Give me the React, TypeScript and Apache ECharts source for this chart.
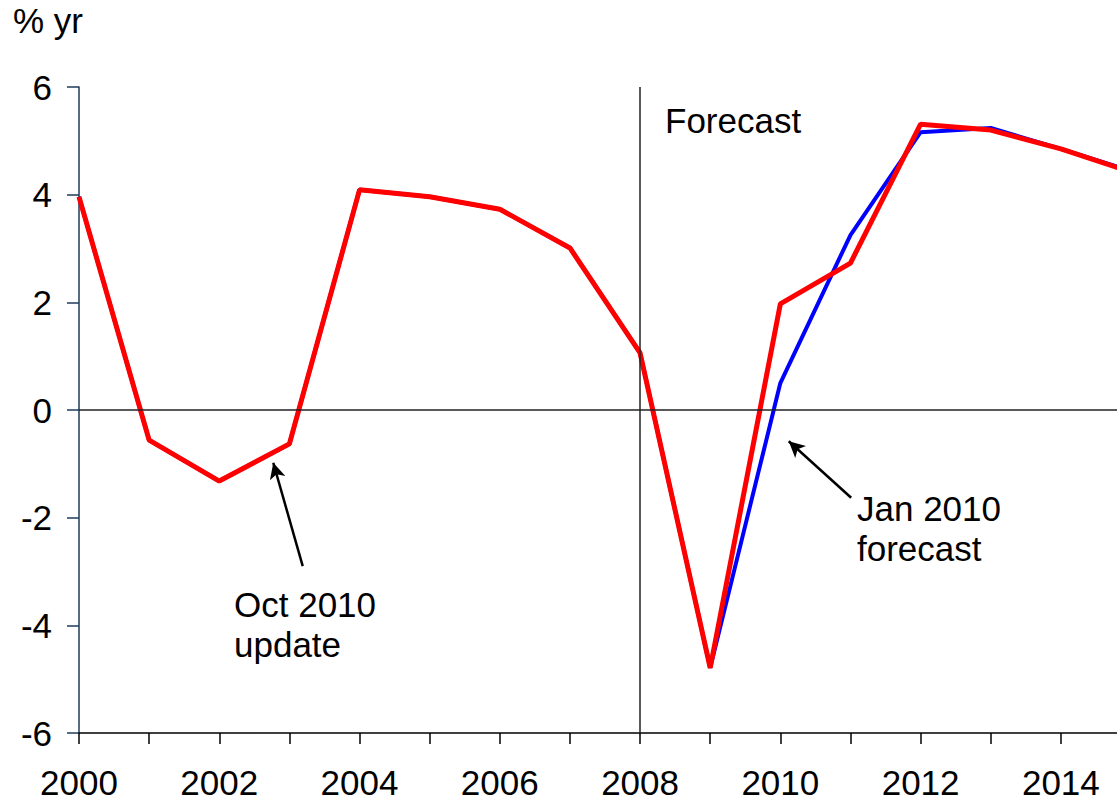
import React, { useEffect, useRef } from "react";
import * as echarts from "echarts";

const years = [2000, 2001, 2002, 2003, 2004, 2005, 2006, 2007, 2008, 2009, 2010, 2011, 2012, 2013, 2014, 2015];
const oct2010Update = [3.96, -0.56, -1.32, -0.63, 4.09, 3.96, 3.73, 3.01, 1.06, -4.79, 1.97, 2.73, 5.31, 5.2, 4.85, 4.42];
const jan2010Forecast = [3.96, -0.56, -1.32, -0.63, 4.09, 3.96, 3.73, 3.01, 1.06, -4.79, 0.5, 3.25, 5.16, 5.24, 4.85, 4.44];
const yTicks = [-6, -4, -2, 0, 2, 4, 6];
const forecastStartYear = 2008;

const FONT = "'Liberation Sans', Arial, sans-serif";
const FS = 35;

export default function App() {
  const ref = useRef<HTMLDivElement>(null);
  useEffect(() => {
    if (!ref.current) return;
    const chart = echarts.init(ref.current, undefined, { renderer: "svg" });
    const pair = (vals: number[]) => years.map((y, i) => [y, vals[i]]);
    chart.setOption({
      animation: false,
      textStyle: { fontFamily: FONT },
      grid: { left: 79, top: 87, bottom: 68, right: 9 },
      xAxis: {
        type: "value",
        min: 2000,
        max: 2015,
        interval: 1,
        axisLine: { onZero: false, lineStyle: { color: "#000", width: 1.5 } },
        axisTick: { inside: false, length: 11, lineStyle: { color: "#000", width: 1.5 } },
        axisLabel: {
          margin: 34,
          fontSize: FS,
          lineHeight: 30,
          color: "#000",
          fontFamily: FONT,
          formatter: (v: number) => (v % 2 === 0 ? String(v) : ""),
        },
        splitLine: { show: false },
      },
      yAxis: {
        type: "value",
        min: yTicks[0],
        max: yTicks[yTicks.length - 1],
        interval: 2,
        axisLine: { show: true, lineStyle: { color: "#1f3a5a", width: 1.5 } },
        axisTick: { show: true, length: 12, lineStyle: { color: "#1f3a5a", width: 1.5 } },
        axisLabel: { margin: 27, fontSize: FS, color: "#000", fontFamily: FONT },
        splitLine: { show: false },
      },
      series: [
        {
          name: "Jan 2010 forecast",
          type: "line",
          data: pair(jan2010Forecast),
          symbol: "none",
          lineStyle: { color: "#0000ff", width: 4 },
          z: 3,
          markLine: {
            silent: true,
            symbol: ["none", "none"],
            label: { show: false },
            lineStyle: { color: "#222", width: 1.5, type: "solid" },
            data: [{ yAxis: 0 }, { xAxis: forecastStartYear }],
          },
        },
        {
          name: "Oct 2010 update",
          type: "line",
          data: pair(oct2010Update),
          symbol: "none",
          lineStyle: { color: "#ff0000", width: 5 },
          z: 4,
          markLine: {
            silent: true,
            symbol: ["none", "arrow"],
            symbolSize: [12, 16],
            label: { show: false },
            lineStyle: { color: "#000", width: 2.5, type: "solid" },
            data: [
              [{ coord: [2003.19, -2.9] }, { coord: [2002.77, -0.98] }],
              [{ coord: [2011.01, -1.63] }, { coord: [2010.12, -0.58] }],
            ],
          },
        },
      ],
      graphic: [
        { type: "text", left: 13, top: 3, style: { text: "% yr", fontSize: FS, fill: "#000", fontFamily: FONT } },
        { type: "text", left: 665, top: 103, style: { text: "Forecast", fontSize: FS, fill: "#000", fontFamily: FONT } },
        { type: "text", left: 234, top: 584, style: { text: "Oct 2010\nupdate", fontSize: FS, lineHeight: 40, fill: "#000", fontFamily: FONT } },
        { type: "text", left: 857, top: 488, style: { text: "Jan 2010\nforecast", fontSize: FS, lineHeight: 40, fill: "#000", fontFamily: FONT } },
      ],
    });
    return () => chart.dispose();
  }, []);
  return (
    <div style={{ position: "fixed", left: 0, top: 0, width: 1117, height: 801, overflow: "hidden", background: "#fff" }}>
      <div ref={ref} style={{ width: 1140, height: 801 }} />
    </div>
  );
}
